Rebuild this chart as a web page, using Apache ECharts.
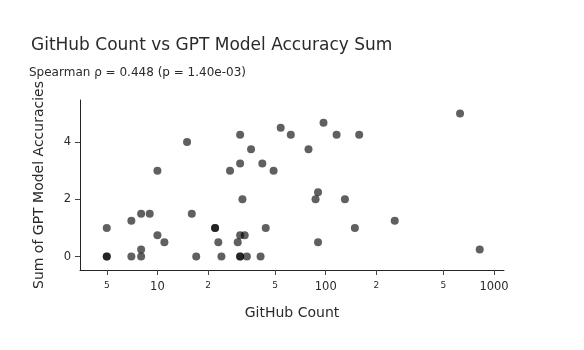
<!DOCTYPE html>
<html>
<head>
<meta charset="utf-8">
<script src="https://cdn.jsdelivr.net/npm/echarts@6/dist/echarts.min.js"></script>
<style>html,body{margin:0;padding:0;background:#fff;}#chart{width:584px;height:350px;}</style>
</head>
<body>
<div id="chart"></div>
<script>
// GitHub count (x) and sum of GPT model accuracies (y)
const githubCount = [5, 5, 5, 7, 7, 8, 8, 8, 9, 10, 10, 11, 15, 16, 17, 22, 22, 23, 24, 27,
  30, 31, 31, 31, 31, 31, 32, 33, 34, 36, 41, 42, 44, 49, 54, 62, 79, 87, 90, 90,
  97, 116, 130, 149, 158, 257, 628, 822];
const accuracySum = [1, 0, 0, 1.25, 0, 1.5, 0.25, 0, 1.5, 3, 0.75, 0.5, 4, 1.5, 0, 1, 1, 0.5, 0, 3,
  0.5, 4.25, 3.25, 0.75, 0, 0, 2, 0.75, 0, 3.75, 0, 3.25, 1, 3, 4.5, 4.25, 3.75, 2, 2.25, 0.5,
  4.67, 4.25, 2, 1, 4.25, 1.25, 5, 0.25];
const xTickValues = [5, 10, 20, 50, 100, 200, 500, 1000];
const xTickLabels = ['5', '10', '2', '5', '100', '2', '5', '1000'];
const xTickMinor = [true, false, true, true, false, true, true, false];
const yTickValues = [0, 2, 4];

const titleText = 'GitHub Count vs GPT Model Accuracy Sum';
const subtitleText = 'Spearman \u03c1 = 0.448 (p = 1.40e-03)';
const xTitle = 'GitHub Count';
const yTitle = 'Sum of GPT Model Accuracies';

const points = githubCount.map((x, i) => [x, accuracySum[i]]);
const xMin = 3.467, xMax = 1146;
const FONT = 'DejaVu Sans';
const TXT = '#2a2a2a';

const chart = echarts.init(document.getElementById('chart'), null, {renderer: 'canvas'});
chart.setOption({
  animation: false,
  backgroundColor: '#fff',
  textStyle: {fontFamily: FONT},
  title: [
    {text: titleText, left: 26, top: 32, padding: 5, textStyle: {fontFamily: FONT, fontSize: 17, fontWeight: 'normal', color: TXT}},
    {text: subtitleText, left: 24, top: 62, padding: 5, textStyle: {fontFamily: FONT, fontSize: 12, fontWeight: 'normal', color: TXT}}
  ],
  grid: {left: 80, right: 80, top: 100, bottom: 80, containLabel: false},
  xAxis: [
    {
      type: 'log', logBase: 10, min: xMin, max: xMax,
      name: xTitle, nameLocation: 'middle', nameGap: 36,
      nameTextStyle: {fontFamily: FONT, fontSize: 14, color: TXT},
      axisLine: {show: true, onZero: false, lineStyle: {color: '#242424', width: 1}},
      axisTick: {show: false}, axisLabel: {show: false}, splitLine: {show: false}, minorTick: {show: false}
    },
    {
      type: 'value', position: 'bottom',
      min: Math.log10(xMin), max: Math.log10(xMax),
      axisLine: {show: false, onZero: false},
      axisTick: {show: true, inside: false, length: 5, lineStyle: {color: '#444'},
        customValues: xTickValues.map(v => Math.log10(v))},
      axisLabel: {
        show: true, margin: 11, color: TXT,
        customValues: xTickValues.map(v => Math.log10(v)),
        formatter: function (v) {
          let idx = 0, best = Infinity;
          xTickValues.forEach((t, i) => { const d = Math.abs(Math.log10(t) - v); if (d < best) { best = d; idx = i; } });
          return (xTickMinor[idx] ? '{s|' : '{b|') + xTickLabels[idx] + '}';
        },
        rich: {
          s: {fontFamily: FONT, fontSize: 9, color: TXT},
          b: {fontFamily: FONT, fontSize: 11.5, color: TXT}
        }
      },
      splitLine: {show: false}
    }
  ],
  yAxis: {
    type: 'value', min: -0.467, max: 5.467,
    name: yTitle, nameLocation: 'middle', nameGap: 34,
    nameTextStyle: {fontFamily: FONT, fontSize: 14, color: TXT},
    axisLine: {show: true, lineStyle: {color: '#242424', width: 1}},
    axisTick: {show: true, inside: false, length: 5, lineStyle: {color: '#444'}, customValues: yTickValues},
    axisLabel: {show: true, margin: 9, fontFamily: FONT, fontSize: 11.5, color: TXT, customValues: yTickValues},
    splitLine: {show: false}
  },
  series: [{
    type: 'scatter',
    xAxisIndex: 0,
    data: points,
    symbol: 'circle',
    symbolSize: 8,
    itemStyle: {color: 'rgba(0,0,0,0.78)'}
  }]
});
</script>
</body>
</html>
